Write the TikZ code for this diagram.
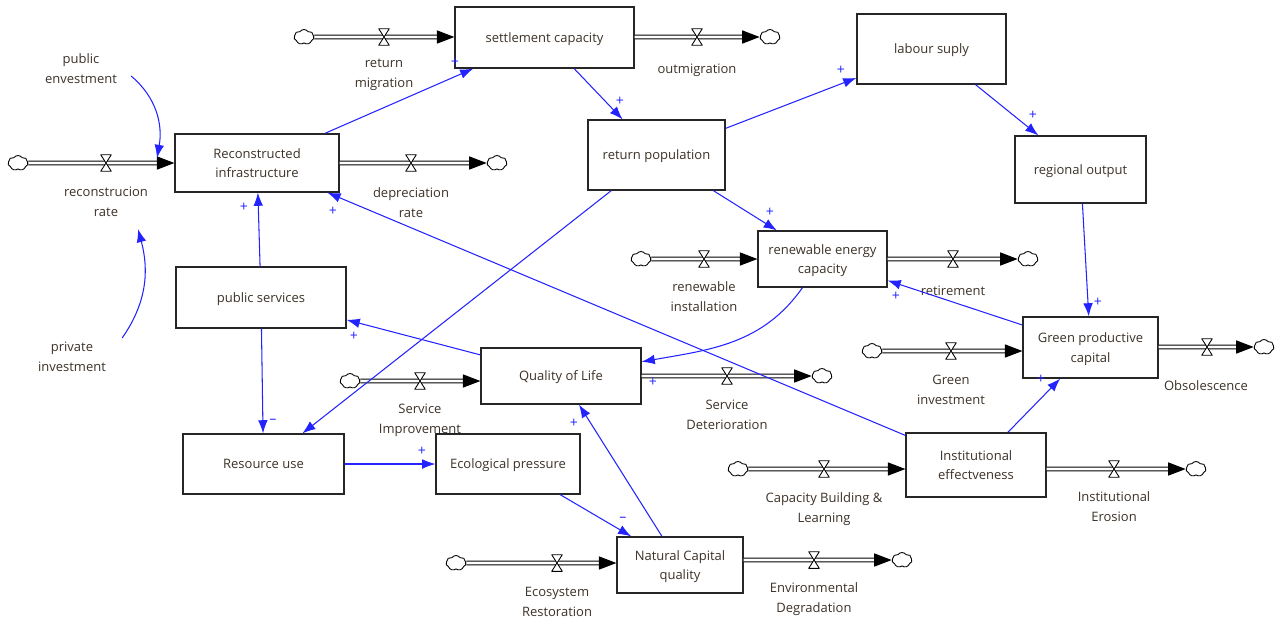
\documentclass[tikz,border=0pt]{standalone}
\usepackage{fontspec}
\setmainfont{Open Sans}
\usetikzlibrary{arrows.meta,shapes.symbols,positioning}

\definecolor{txt}{RGB}{60,50,40}
\definecolor{linkblue}{RGB}{35,35,255}

\begin{document}
\begin{tikzpicture}[x=0.02cm, y=-0.02cm,
        font=\fontsize{7.4}{11.3}\selectfont,
        stock/.style={draw=black!85, line width=0.7pt, align=center, text=txt, fill=white, text depth=0pt},
        sink/.style={cloud, draw, cloud puffs=7, cloud puff arc=110, aspect=1.3, minimum width=0.4cm, minimum height=0.3cm, inner sep=0pt, fill=white, line width=0.5pt},
        valve/.style={minimum width=0.24cm, minimum height=0.36cm, inner sep=0pt,
            path picture={\draw[line width=0.5pt, fill=white, line join=round]
                ([shift={(0.4pt,-0.4pt)}]path picture bounding box.north west) --
                ([shift={(-0.4pt,-0.4pt)}]path picture bounding box.north east) --
                ([shift={(0.4pt,0.4pt)}]path picture bounding box.south west) --
                ([shift={(-0.4pt,0.4pt)}]path picture bounding box.south east) -- cycle;}},
        pipe/.style={double=white, double distance=1.6pt, line width=0.6pt, draw=black, -{Triangle[length=10pt, width=7.5pt]}},
        link/.style={draw=linkblue, line width=0.6pt, -{Latex[length=7.5pt, width=5.5pt]}},
        sign/.style={text=linkblue, font=\fontsize{8}{8}\selectfont, inner sep=0pt},
        lbl/.style={align=center, text=txt}
    ]
        \useasboundingbox (0,0) rectangle (1287,620);

        % Stocks
        \node[stock, minimum width=3.58cm, minimum height=1.22cm] (sc) at (544.5,37.5) {settlement capacity};
        \node[stock, minimum width=2.98cm, minimum height=1.40cm] (ls) at (931.5,49) {labour suply};
        \node[stock, minimum width=3.28cm, minimum height=1.16cm] (ri) at (257,163) {Reconstructed\\infrastructure};
        \node[stock, minimum width=2.74cm, minimum height=1.40cm] (rp) at (656.5,155) {return population};
        \node[stock, minimum width=2.62cm, minimum height=1.34cm] (ro) at (1080.5,169.5) {regional output};
        \node[stock, minimum width=2.58cm, minimum height=1.12cm] (rec) at (822.5,259) {renewable energy\\capacity};
        \node[stock, minimum width=3.40cm, minimum height=1.22cm] (ps) at (261,297.5) {public services};
        \node[stock, minimum width=2.70cm, minimum height=1.22cm] (gpc) at (1090.5,347.5) {Green productive\\capital};
        \node[stock, minimum width=3.20cm, minimum height=1.12cm] (qol) at (561,376) {Quality of Life};
        \node[stock, minimum width=3.22cm, minimum height=1.20cm] (ru) at (263.5,464) {Resource use};
        \node[stock, minimum width=2.88cm, minimum height=1.20cm] (ep) at (508,464) {Ecological pressure};
        \node[stock, minimum width=2.80cm, minimum height=1.28cm] (ie) at (976,465) {Institutional\\effectveness};
        \node[stock, minimum width=2.52cm, minimum height=1.12cm] (ncq) at (680,565) {Natural Capital\\quality};

        % Inflows
        \node[sink] (rmc) at (304,37) {};
        \draw[pipe] (rmc) -- (rmc -| sc.west);
        \node[valve] (rmv) at (384,37) {};
        \node[lbl] (rml) at (384,75) {return\\migration};

        \node[sink] (rrc) at (18,163) {};
        \draw[pipe] (rrc) -- (rrc -| ri.west);
        \node[valve] (rrv) at (106,163) {};
        \node[lbl] (rrl) at (106,202) {reconstrucion\\rate};

        \node[sink] (ric) at (641,259) {};
        \draw[pipe] (ric) -- (ric -| rec.west);
        \node[valve] (riv) at (704,259) {};
        \node[lbl] (ril) at (704,297) {renewable\\installation};

        \node[sink] (gic) at (872,351) {};
        \draw[pipe] (gic) -- (gic -| gpc.west);
        \node[valve] (giv) at (951,351) {};
        \node[lbl] (gil) at (951,390) {Green\\investment};

        \node[sink] (sic) at (350,381) {};
        \draw[pipe] (sic) -- (sic -| qol.west);
        \node[valve] (siv) at (420,381) {};
        \node[lbl] (sil) at (420,420) {Service\\Improvement};

        \node[sink] (cbc) at (738,469) {};
        \draw[pipe] (cbc) -- (cbc -| ie.west);
        \node[valve] (cbv) at (824,469) {};
        \node[lbl] (cbl) at (824,509) {Capacity Building \&\\Learning};

        \node[sink] (esc) at (456,563) {};
        \draw[pipe] (esc) -- (esc -| ncq.west);
        \node[valve] (esv) at (557,563) {};
        \node[lbl] (esl) at (557,602) {Ecosystem\\Restoration};

        % Outflows
        \node[sink] (omc) at (770,37) {};
        \draw[pipe] (omc -| sc.east) -- (omc);
        \node[valve] (omv) at (697,37) {};
        \node[lbl] (oml) at (697,70) {outmigration};

        \node[sink] (drc) at (497,163) {};
        \draw[pipe] (drc -| ri.east) -- (drc);
        \node[valve] (drv) at (411,163) {};
        \node[lbl] (drl) at (411,203) {depreciation\\rate};

        \node[sink] (rtc) at (1028,259) {};
        \draw[pipe] (rtc -| rec.east) -- (rtc);
        \node[valve] (rtv) at (953,259) {};
        \node[lbl] (rtl) at (953,291) {retirement};

        \node[sink] (obc) at (1264,347) {};
        \draw[pipe] (obc -| gpc.east) -- (obc);
        \node[valve] (obv) at (1207,347) {};
        \node[lbl] (obl) at (1206,386) {Obsolescence};

        \node[sink] (sdc) at (822,376) {};
        \draw[pipe] (sdc -| qol.east) -- (sdc);
        \node[valve] (sdv) at (727,376) {};
        \node[lbl] (sdl) at (727,415) {Service\\Deterioration};

        \node[sink] (iec) at (1196,469) {};
        \draw[pipe] (iec -| ie.east) -- (iec);
        \node[valve] (iev) at (1114,469) {};
        \node[lbl] (iel) at (1114,507) {Institutional\\Erosion};

        \node[sink] (edc) at (902,560) {};
        \draw[pipe] (edc -| ncq.east) -- (edc);
        \node[valve] (edv) at (814,560) {};
        \node[lbl] (edl) at (814,599) {Environmental\\Degradation};

        % Investment inputs
        \node[lbl] (pubinv) at (81,69) {public\\envestment};
        \node[lbl] (pvinv) at (72,357) {private\\investment};
        \coordinate (rrin) at (157,158);
        \coordinate (rrtag) at (138,229);
        \draw[link] ([shift={(8,7)}]pubinv.east) to[out=-40, in=80] (rrin);
        \draw[link] ([shift={(10,2)}]pvinv.north east) to[out=55, in=-75] (rrtag);

        % Causal links
        \draw[link] (ri) -- (sc);
        \draw[link] (sc) -- (rp);
        \draw[link] (rp) -- (ls);
        \draw[link] (ls) -- (ro);
        \draw[link] (rp) -- (rec);
        \draw[link] (rp) -- (ru);
        \draw[link] (ro) -- (gpc);
        \draw[link] (gpc) -- (rec);
        \draw[link] (rec) to[out=-125, in=10] (qol);
        \draw[link] (qol) -- (ps);
        \draw[link] (ps) -- (ri);
        \draw[link] (ps) -- (ru);
        \draw[link] (ru) -- (ep);
        \draw[link] (ep) -- (ncq);
        \draw[link] (ncq) -- (qol);
        \draw[link] (ie) -- (ri);
        \draw[link] (ie) -- (gpc);

        % Polarities
        \node[sign] (p1) at (455,62) {+};
        \node[sign] (p2) at (620,101) {+};
        \node[sign] (p3) at (841,70) {+};
        \node[sign] (p4) at (1033,115) {+};
        \node[sign] (p5) at (770,212) {+};
        \node[sign] (p6) at (1098,302) {+};
        \node[sign] (p7) at (896,296) {+};
        \node[sign] (p8) at (653,382) {+};
        \node[sign] (p9) at (354,336) {+};
        \node[sign] (p10) at (244,207) {+};
        \node[sign] (p11) at (333,211) {+};
        \node[sign] (p12) at (273,421) {--};
        \node[sign] (p13) at (422,451) {+};
        \node[sign] (p14) at (623,519) {--};
        \node[sign] (p15) at (574,423) {+};
        \node[sign] (p16) at (1041,379) {+};
    \end{tikzpicture}
\end{document}
